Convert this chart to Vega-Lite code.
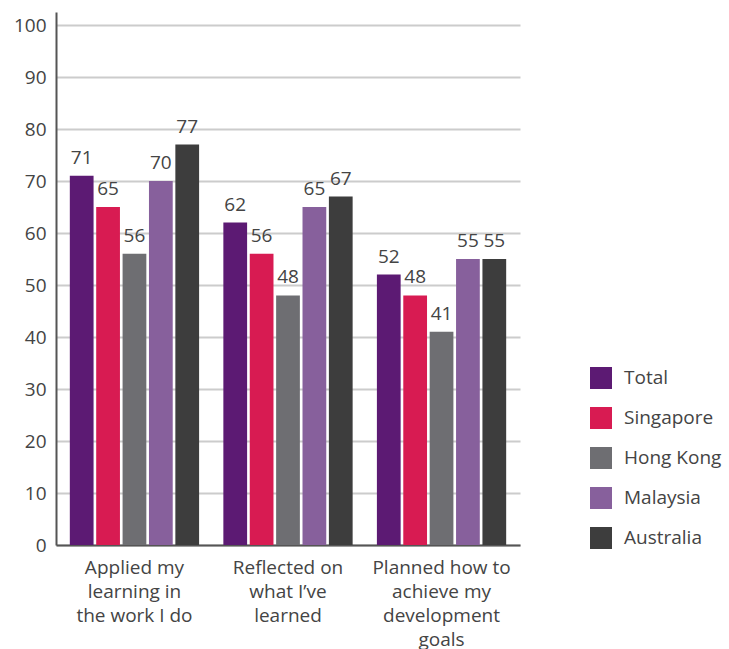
{
  "$schema": "https://vega.github.io/schema/vega-lite/v6.json",
  "width": 464,
  "height": 533,
  "autosize": {"type": "none"},
  "padding": {"left": 56, "top": 12, "right": 209, "bottom": 104},
  "background": "white",
  "config": {
    "font": "Open Sans",
    "view": {"stroke": null}
  },
  "data": {
    "values": [
      {"cat": "Applied my\nlearning in\nthe work I do", "country": "Total", "value": 71},
      {"cat": "Applied my\nlearning in\nthe work I do", "country": "Singapore", "value": 65},
      {"cat": "Applied my\nlearning in\nthe work I do", "country": "Hong Kong", "value": 56},
      {"cat": "Applied my\nlearning in\nthe work I do", "country": "Malaysia", "value": 70},
      {"cat": "Applied my\nlearning in\nthe work I do", "country": "Australia", "value": 77},
      {"cat": "Reflected on\nwhat I’ve\nlearned", "country": "Total", "value": 62},
      {"cat": "Reflected on\nwhat I’ve\nlearned", "country": "Singapore", "value": 56},
      {"cat": "Reflected on\nwhat I’ve\nlearned", "country": "Hong Kong", "value": 48},
      {"cat": "Reflected on\nwhat I’ve\nlearned", "country": "Malaysia", "value": 65},
      {"cat": "Reflected on\nwhat I’ve\nlearned", "country": "Australia", "value": 67},
      {"cat": "Planned how to\nachieve my\ndevelopment\ngoals", "country": "Total", "value": 52},
      {"cat": "Planned how to\nachieve my\ndevelopment\ngoals", "country": "Singapore", "value": 48},
      {"cat": "Planned how to\nachieve my\ndevelopment\ngoals", "country": "Hong Kong", "value": 41},
      {"cat": "Planned how to\nachieve my\ndevelopment\ngoals", "country": "Malaysia", "value": 55},
      {"cat": "Planned how to\nachieve my\ndevelopment\ngoals", "country": "Australia", "value": 55}
    ]
  },
  "encoding": {
    "x": {
      "field": "cat", "type": "nominal", "sort": null, "title": null,
      "scale": {"paddingInner": 0.158, "paddingOuter": 0.09},
      "axis": {
        "labelAngle": 0, "labelFontSize": 19, "labelColor": "#444",
        "labelExpr": "split(datum.label, '\\n')", "labelLineHeight": 24,
        "labelPadding": 13, "ticks": false, "domainColor": "#555", "domainWidth": 2,
        "labelBaseline": "top", "grid": false
      }
    },
    "xOffset": {
      "field": "country", "type": "nominal", "sort": ["Total", "Singapore", "Hong Kong", "Malaysia", "Australia"],
      "scale": {"paddingInner": 0.1}
    },
    "y": {
      "field": "value", "type": "quantitative", "title": null,
      "scale": {"domain": [0, 102.5], "nice": false},
      "axis": {
        "values": [0, 10, 20, 30, 40, 50, 60, 70, 80, 90, 100],
        "labelFontSize": 19, "labelColor": "#444", "labelPadding": 10,
        "ticks": false, "domainColor": "#555", "domainWidth": 2,
        "gridColor": "#ccc", "gridWidth": 2
      }
    }
  },
  "layer": [
    {
      "mark": {"type": "bar"},
      "encoding": {
        "color": {
          "field": "country", "type": "nominal", "title": null,
          "sort": ["Total", "Singapore", "Hong Kong", "Malaysia", "Australia"],
          "scale": {
            "domain": ["Total", "Singapore", "Hong Kong", "Malaysia", "Australia"],
            "range": ["#5c1a73", "#d81b52", "#6e6e72", "#87609c", "#3d3d3d"]
          },
          "legend": {
            "orient": "none", "legendX": 534, "legendY": 355,
            "symbolType": "square", "symbolSize": 484, "symbolStrokeWidth": 0,
            "labelFontSize": 19, "labelColor": "#444", "labelOffset": 12,
            "rowPadding": 18
          }
        }
      }
    },
    {
      "mark": {"type": "text", "baseline": "bottom", "dy": -8, "fontSize": 19, "color": "#444"},
      "encoding": {"text": {"field": "value", "type": "quantitative"}}
    }
  ]
}
